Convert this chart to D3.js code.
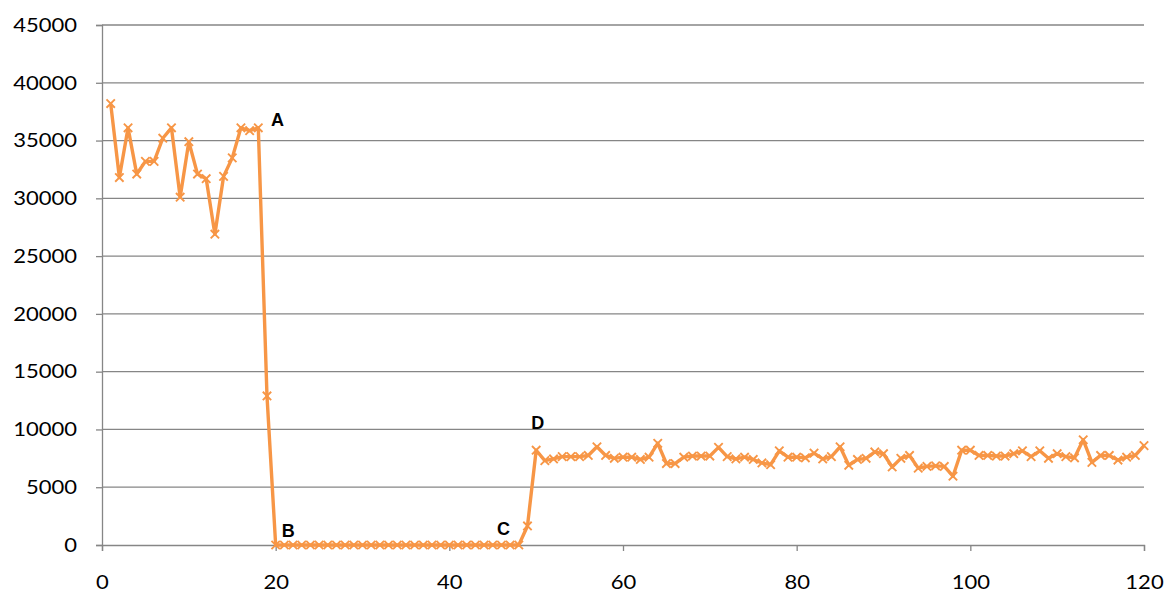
<!DOCTYPE html>
<html>
<head>
<meta charset="utf-8">
<script src="https://cdn.jsdelivr.net/npm/d3@7"></script>
<style>
  html, body { margin: 0; padding: 0; background: #fff; }
  svg { display: block; }
</style>
</head>
<body>
<svg id="chart" width="1168" height="599"></svg>
<script>
// ---- data ----
const xTicks = [0, 20, 40, 60, 80, 100, 120];
const yTicks = [0, 5000, 10000, 15000, 20000, 25000, 30000, 35000, 40000, 45000];
const values = [
  38200, 31800, 36100, 32100, 33200, 33200, 35200, 36100, 30100, 34900,
  32100, 31700, 26900, 31900, 33500, 36100, 35850, 36100, 12900, 0,
  0, 0, 0, 0, 0, 0, 0, 0, 0, 0,
  0, 0, 0, 0, 0, 0, 0, 0, 0, 0,
  0, 0, 0, 0, 0, 0, 0, 0, 1650, 8200,
  7300, 7450, 7650, 7650, 7650, 7750, 8500, 7750, 7500, 7600,
  7600, 7400, 7600, 8800, 7050, 7050, 7600, 7700, 7700, 7700,
  8450, 7650, 7450, 7600, 7400, 7100, 6950, 8150, 7600, 7600,
  7550, 7950, 7450, 7650, 8500, 6900, 7400, 7500, 8050, 7900,
  6750, 7500, 7750, 6650, 6800, 6850, 6800, 5950, 8200, 8200,
  7750, 7750, 7700, 7700, 7900, 8150, 7650, 8150, 7500, 7900,
  7650, 7550, 9100, 7150, 7750, 7750, 7350, 7600, 7750, 8600
];
const labels = [
  { text: "A", x: 19, y: 36100, dx: 4, dy: -2 },
  { text: "B", x: 20, y: 0, dx: 6, dy: -8 },
  { text: "C", x: 47, y: 0, dx: -13, dy: -10 },
  { text: "D", x: 50, y: 8200, dx: -5, dy: -21 }
];

// ---- layout ----
const svg = d3.select("#chart");
const pLeft = 102, pRight = 1144, pTop = 25, pBottom = 545;
const x = d3.scaleLinear().domain([0, 120]).range([pLeft, pRight]);
const y = d3.scaleLinear().domain([0, 45000]).range([pBottom, pTop]);
const orange = "#F79646";
const gridColor = "#868686";
const font = "Lato, 'Open Sans', sans-serif";
const sx = 1.13;

// gridlines
svg.append("g").selectAll("line").data(yTicks.filter(d => d > 0)).join("line")
  .attr("x1", pLeft).attr("x2", pRight)
  .attr("y1", d => y(d)).attr("y2", d => y(d))
  .attr("stroke", gridColor).attr("stroke-width", 1.3);

// y axis
const yAxis = svg.append("g").attr("transform", `translate(${pLeft},0)`)
  .call(d3.axisLeft(y).tickValues(yTicks).tickSize(6).tickPadding(19).tickFormat(d3.format("d")));
yAxis.select(".domain").attr("stroke", gridColor).attr("stroke-width", 1.3);
yAxis.selectAll(".tick line").attr("stroke", gridColor).attr("stroke-width", 1.3);
yAxis.selectAll("text").attr("font-family", font).attr("font-size", 19.5).attr("fill", "#000")
  .attr("x", -25 / sx).attr("transform", `scale(${sx},1)`);

// x axis
const xAxis = svg.append("g").attr("transform", `translate(0,${pBottom})`)
  .call(d3.axisBottom(x).tickValues(xTicks).tickSize(6).tickPadding(24).tickFormat(d3.format("d")));
xAxis.select(".domain").attr("stroke", gridColor).attr("stroke-width", 1.3);
xAxis.selectAll(".tick line").attr("stroke", gridColor).attr("stroke-width", 1.3);
xAxis.selectAll("text").attr("font-family", font).attr("font-size", 19.5).attr("fill", "#000")
  .attr("transform", `scale(${sx},1)`);

// line
const pts = values.map((v, i) => [i + 1, v]);
svg.append("path").datum(pts)
  .attr("fill", "none").attr("stroke", orange).attr("stroke-width", 3.4)
  .attr("stroke-linejoin", "round")
  .attr("d", d3.line().x(d => x(d[0])).y(d => y(d[1])));

// x markers
const m = 4.2;
svg.append("g").selectAll("path").data(pts).join("path")
  .attr("d", d => {
    const cx = x(d[0]), cy = y(d[1]);
    return `M${cx - m},${cy - m}L${cx + m},${cy + m}M${cx - m},${cy + m}L${cx + m},${cy - m}`;
  })
  .attr("stroke", orange).attr("stroke-width", 1.9).attr("fill", "none");

// annotations
svg.append("g").selectAll("text").data(labels).join("text")
  .attr("x", d => x(d.x) + d.dx).attr("y", d => y(d.y) + d.dy)
  .attr("font-family", "'Liberation Sans', Arial, sans-serif").attr("font-weight", "bold")
  .attr("font-size", 18).attr("fill", "#000")
  .text(d => d.text);
</script>
</body>
</html>
